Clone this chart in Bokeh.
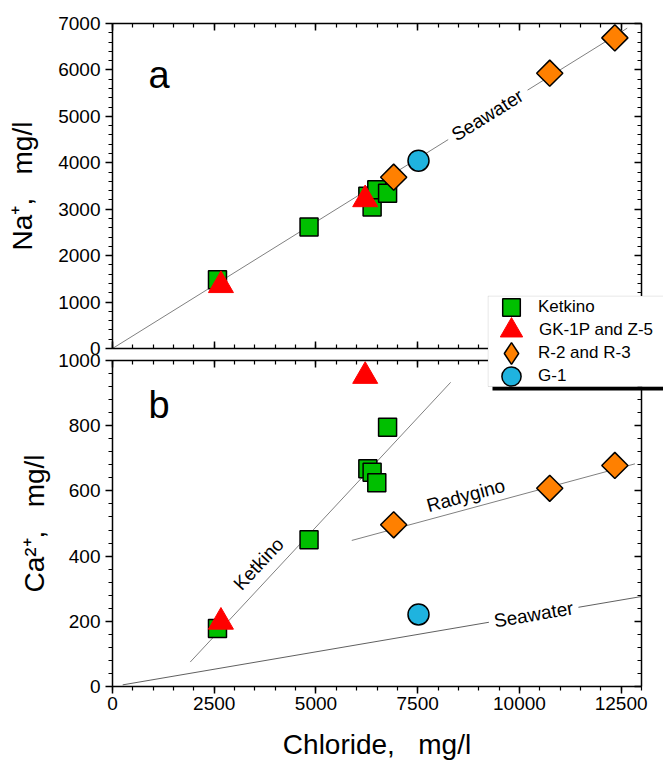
import math
from bokeh.plotting import figure
from bokeh.models import (Range1d, LinearAxis, SingleIntervalTicker, Label,
                          Legend, LegendItem, BoxAnnotation)
from bokeh.layouts import column
from bokeh.embed import file_html
from bokeh.resources import INLINE

NAN = float("nan")

# ---------------- data (mg/l) ----------------
ketkino_cl = [2580, 4830, 6275, 6380, 6495, 6760]
ketkino_na = [1480, 2615, 3280, 3050, 3420, 3345]
ketkino_ca = [178, 450, 668, 657, 625, 795]

gk_cl = [2665, 6210]
gk_na = [1360, 3210]
gk_ca = [198, 952]

r_cl = [6910, 10745, 12345]
r_na = [3690, 5930, 6690]
r_ca = [496, 608, 678]

g1_cl = [7520]
g1_na = [4045]
g1_ca = [221]

# trend lines (NaN = gap left for the in-line label)
sea_na_line_cl = [0, 8250, NAN, 10200, 12650]
sea_na_line = [0, 4500, NAN, 5565, 6900]
sea_ca_line_cl = [250, 9250, NAN, 11450, 13000]
sea_ca_line = [5, 197, NAN, 243, 276]
ket_line_cl = [1910, 8310]
ket_line_ca = [75, 933]
rad_line_cl = [5880, 12840]
rad_line_ca = [448, 683]

series_names = ["Ketkino", "GK-1P and Z-5", "R-2 and R-3", "G-1"]

X_RANGE = (0, 13000)
NA_RANGE = (0, 7000)
CA_RANGE = (0, 1000)

FONT = "Liberation Sans"
LINE_COLOR = "#808080"
GAP = "\u00a0\u00a0\u00a0"
LEFT_BORDER = 112
RIGHT_BORDER = 20


def style_axis(ax, interval, inward, labels, label_size="19px"):
    ax.ticker = SingleIntervalTicker(interval=interval, num_minor_ticks=5)
    ax.axis_line_color = "black"
    ax.axis_line_width = 1.5
    ax.major_tick_line_color = "black"
    ax.major_tick_line_width = 1.5
    ax.minor_tick_line_color = "black"
    ax.minor_tick_line_width = 1.2
    if inward:
        ax.major_tick_in, ax.major_tick_out = 7, 0
        ax.minor_tick_in, ax.minor_tick_out = 4, 0
    else:
        ax.major_tick_in, ax.major_tick_out = 0, 7
        ax.minor_tick_in, ax.minor_tick_out = 0, 4
    if labels:
        ax.major_label_text_font = FONT
        ax.major_label_text_font_size = label_size
        ax.major_label_text_color = "black"
    else:
        ax.major_label_text_color = None
        ax.major_label_text_font_size = "0px"
        ax.major_label_standoff = 0
    ax.axis_label_text_font = FONT
    ax.axis_label_text_font_style = "normal"
    ax.axis_label_text_font_size = "28px"
    ax.axis_label_text_color = "black"


def make_fig(yrange, fh, mb_top, mb_bottom, border_alpha):
    p = figure(frame_width=529, frame_height=fh,
               x_range=Range1d(*X_RANGE), y_range=Range1d(*yrange),
               output_backend="svg", toolbar_location=None,
               min_border_left=LEFT_BORDER, min_border_right=RIGHT_BORDER,
               min_border_top=mb_top, min_border_bottom=mb_bottom)
    p.grid.visible = False
    p.outline_line_color = None
    p.background_fill_color = "white"
    p.border_fill_color = "white"
    p.border_fill_alpha = border_alpha
    return p


# ---------------- panel a (Na+) ----------------
top = make_fig(NA_RANGE, 325, 23, 30, 1.0)
style_axis(top.yaxis[0], 1000, False, True)
top.yaxis[0].major_label_standoff = 5
top.yaxis[0].axis_label = "Na\u207a," + GAP + "mg/l"
top.yaxis[0].axis_label_standoff = 17
style_axis(top.xaxis[0], 2500, True, False)
for side in ("right", "above"):
    ax = LinearAxis()
    style_axis(ax, 1000 if side == "right" else 2500, True, False)
    top.add_layout(ax, side)

# ---------------- panel b (Ca2+) ----------------
bot = make_fig(CA_RANGE, 326, 80, 78, 0.0)
bot.margin = (-98, 0, 0, 0)
style_axis(bot.yaxis[0], 200, False, True)
bot.yaxis[0].major_label_standoff = 5
bot.yaxis[0].axis_label = "Ca\u00b2\u207a," + GAP + "mg/l"
bot.yaxis[0].axis_label_standoff = 5
style_axis(bot.xaxis[0], 2500, False, True)
bot.xaxis[0].major_label_standoff = 3
bot.xaxis[0].axis_label = "Chloride," + GAP + "mg/l"
bot.xaxis[0].axis_label_standoff = 16
for side in ("right", "above"):
    ax = LinearAxis()
    style_axis(ax, 200 if side == "right" else 2500, True, False)
    bot.add_layout(ax, side)

# ---------------- trend lines ----------------
top.line(sea_na_line_cl, sea_na_line, line_color=LINE_COLOR, line_width=1)
bot.line(sea_ca_line_cl, sea_ca_line, line_color="#606060", line_width=1)
bot.line(ket_line_cl, ket_line_ca, line_color=LINE_COLOR, line_width=1)
bot.line(rad_line_cl, rad_line_ca, line_color=LINE_COLOR, line_width=1)

# ---------------- markers ----------------
styles = [
    dict(marker="square", size=18, fill_color="#00bf00", line_color="black", line_width=1.5),
    dict(marker="triangle", size=25, fill_color="#ff0000", line_color="#ff0000", line_width=1),
    dict(marker="square", size=18.5, angle=math.pi / 4, fill_color="#ff8000",
         line_color="black", line_width=1.5),
    dict(marker="circle", size=21, fill_color="#1fb3df", line_color="black", line_width=1.5),
]
data = [
    (ketkino_cl, ketkino_na, ketkino_ca),
    (gk_cl, gk_na, gk_ca),
    (r_cl, r_na, r_ca),
    (g1_cl, g1_na, g1_ca),
]
for name, (cl, na, ca), st in zip(series_names, data, styles):
    top.scatter(cl, na, **st)
    bot.scatter(cl, ca, **st)

# ---------------- in-plot texts ----------------
def add_label(p, x, y, text, angle=0.0, size="19px", align="center", baseline="middle"):
    p.add_layout(Label(x=x, y=y, text=text, angle=angle, text_align=align,
                       text_baseline=baseline, text_font=FONT, text_font_size=size,
                       text_color="black"))

add_label(top, 885, 5900, "a", size="38px", align="left")
add_label(bot, 885, 862, "b", size="38px", align="left")
add_label(top, 9215, 5027, "Seawater", angle=math.radians(31.9))
add_label(bot, 10350, 221, "Seawater", angle=math.radians(9.66))
add_label(bot, 3588, 376, "Ketkino", angle=math.radians(47.1))
add_label(bot, 8680, 586, "Radygino", angle=math.radians(15.15))

# ---------------- legend: its own small overlay figure ----------------
# (its ranges lie outside the data, so only the legend glyphs of the series show here)
leg = figure(frame_width=176, frame_height=104, x_range=Range1d(-2, -1), y_range=Range1d(-2, -1),
             output_backend="svg", toolbar_location=None,
             x_axis_location=None, y_axis_location=None,
             min_border=0, min_border_left=LEFT_BORDER, min_border_right=RIGHT_BORDER,
             min_border_top=0, min_border_bottom=0)
leg.grid.visible = False
leg.outline_line_color = None
leg.background_fill_alpha = 0
leg.border_fill_alpha = 0
leg.margin = (295 - 764, 0, 0, 487 - LEFT_BORDER)

leg.add_layout(BoxAnnotation(left=5, right=300, bottom=9, top=13,
                             left_units="screen", right_units="screen",
                             top_units="screen", bottom_units="screen",
                             fill_color="black", fill_alpha=1, line_color=None))
leg.add_layout(BoxAnnotation(left=0.5, right=300, bottom=13, top=103.5,
                             left_units="screen", right_units="screen",
                             top_units="screen", bottom_units="screen",
                             fill_color="white", fill_alpha=1,
                             line_color="#9a9a9a", line_width=1))

# legend key styles (the legend never rotates a marker, so the diamond key uses "diamond")
legend_keys = [
    dict(styles[0]),
    dict(styles[1]),
    dict(marker="diamond", size=18.5, fill_color="#ff8000", line_color="black", line_width=1.5),
    dict(styles[3]),
]
# per row: (x offset, y offset, glyph width, glyph height, label standoff)
legend_rows = [
    (2, 70, 44, 44, 5),
    (-4, 41, 56, 56, 0),
    (-3, 16, 54, 60, 0),
    (0, -1, 48, 48, 3),
]
for name, (cl, na, ca), st, (lx, ly, gw, gh, so) in zip(series_names, data, legend_keys, legend_rows):
    rend = leg.scatter(cl, ca, **st)
    lg = Legend(items=[LegendItem(label=name, renderers=[rend])], location=(lx, ly),
                glyph_width=gw, glyph_height=gh, label_height=gh,
                padding=0, margin=0, label_standoff=so, label_width=120,
                label_text_font=FONT, label_text_font_size="17px",
                label_text_color="black",
                border_line_color=None, background_fill_alpha=0)
    leg.add_layout(lg)

layout = column(top, bot, leg)
open("out.html", "w").write(file_html(layout, INLINE))
